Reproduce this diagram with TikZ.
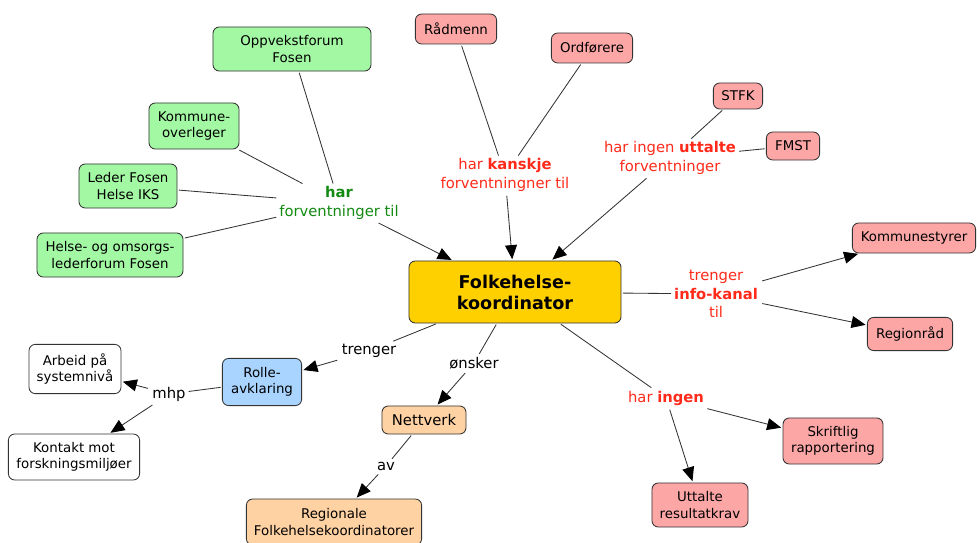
\documentclass[tikz,border=0pt]{standalone}
\usepackage{fontspec}
\setmainfont{DejaVu Sans}
\usetikzlibrary{arrows.meta}

\definecolor{boxgreen}{HTML}{A3F8A3}
\definecolor{boxred}{HTML}{FCA6A6}
\definecolor{boxgold}{HTML}{FFD000}
\definecolor{boxblue}{HTML}{A8D4FF}
\definecolor{boxpeach}{HTML}{FFD2A4}
\definecolor{txtgreen}{HTML}{128A12}
\definecolor{txtred}{HTML}{FF2A1A}

\begin{document}
\begin{tikzpicture}[x=0.025cm, y=-0.025cm,
  box/.style={draw=black!80, line width=0.6pt, rounded corners=4.5pt, align=center, inner sep=1pt, font=\fontsize{9.5}{11.5}\selectfont},
  lbl/.style={align=center, inner sep=2pt, font=\fontsize{10.5}{13}\selectfont},
  link/.style={draw=black!80, line width=0.6pt, shorten <=1pt},
  arr/.style={link, -{Triangle[length=10pt,width=8.5pt,color=black]}, shorten >=1pt}]

\useasboundingbox (0,0) rectangle (977,543);

\node[box, fill=boxgold, minimum width=5.3cm, minimum height=1.55cm, font=\fontsize{12.5}{15}\selectfont\bfseries] (koord) at (515,292) {Folkehelse-\\koordinator};

\node[box, fill=boxgreen, minimum width=3.95cm, minimum height=1.1cm] (oppv) at (292,49) {Oppvekstforum\\Fosen};
\node[box, fill=boxgreen, minimum width=2.25cm, minimum height=1.15cm] (overlege) at (194,126) {Kommune-\\overleger};
\node[box, fill=boxgreen, minimum width=2.45cm, minimum height=1.1cm] (leder) at (128,186) {Leder Fosen\\Helse IKS};
\node[box, fill=boxgreen, minimum width=3.65cm, minimum height=1.1cm] (helse) at (110,255) {Helse- og omsorgs-\\lederforum Fosen};

\node[box, fill=boxred, minimum width=2.03cm, minimum height=0.75cm] (radmenn) at (456,29) {Rådmenn};
\node[box, fill=boxred, minimum width=2.03cm, minimum height=0.75cm] (ordforer) at (592,48) {Ordførere};
\node[box, fill=boxred, minimum width=1.23cm, minimum height=0.65cm] (stfk) at (738,96) {STFK};
\node[box, fill=boxred, minimum width=1.33cm, minimum height=0.7cm] (fmst) at (793,146) {FMST};
\node[box, fill=boxred, minimum width=3.08cm, minimum height=0.75cm] (kstyre) at (914,238) {Kommunestyrer};
\node[box, fill=boxred, minimum width=2.13cm, minimum height=0.83cm] (regrad) at (910,334) {Regionråd};
\node[box, fill=boxred, minimum width=2.5cm, minimum height=1.15cm] (skriftlig) at (833,441) {Skriftlig\\rapportering};
\node[box, fill=boxred, minimum width=2.4cm, minimum height=1.1cm] (uttalte) at (700,505) {Uttalte\\resultatkrav};

\node[box, fill=boxblue, minimum width=1.98cm, minimum height=1.18cm] (rolle) at (262,382) {Rolle-\\avklaring};
\node[box, fill=white, minimum width=2.3cm, minimum height=1.23cm] (arbeid) at (75,369) {Arbeid på\\systemnivå};
\node[box, fill=white, minimum width=3.28cm, minimum height=1.15cm] (kontakt) at (74,457) {Kontakt mot\\forskningsmiljøer};
\node[box, fill=boxpeach, minimum width=2.1cm, minimum height=0.7cm, font=\fontsize{10.5}{13}\selectfont] (nettverk) at (424,420) {Nettverk};
\node[box, fill=boxpeach, minimum width=4.38cm, minimum height=1.15cm] (regionale) at (334,522) {Regionale\\Folkehelsekoordinatorer};

\node[lbl, text=txtgreen] (lblHar) at (339,203) {\textbf{har}\\forventninger til};
\node[lbl, text=txtred] (lblKanskje) at (505,175) {har \textbf{kanskje}\\forventningner til};
\node[lbl, text=txtred] (lblUttalte) at (670,158) {har ingen \textbf{uttalte}\\forventninger};
\node[lbl, text=txtred] (lblInfo) at (716,294) {trenger\\\textbf{info-kanal}\\til};
\node[lbl, text=txtred] (lblIngen) at (666,398) {har \textbf{ingen}};
\node[lbl] (lblTrenger) at (369,351) {trenger};
\node[lbl] (lblOnsker) at (474,363) {ønsker};
\node[lbl] (lblMhp) at (169,394) {mhp};
\node[lbl] (lblAv) at (386,466) {av};

\draw[link] (oppv) -- (lblHar);
\draw[link] (overlege) -- (lblHar);
\draw[link] (leder) -- (lblHar);
\draw[link] (helse) -- (lblHar);
\draw[arr] (lblHar) -- (koord);

\draw[link] (radmenn) -- (lblKanskje);
\draw[link] (ordforer) -- (lblKanskje);
\draw[arr] (lblKanskje) -- (koord);

\draw[link] (stfk) -- (lblUttalte);
\draw[link] (fmst) -- (lblUttalte);
\draw[arr] (lblUttalte) -- (koord);

\draw[link] (koord) -- (lblInfo);
\draw[arr] (lblInfo) -- (kstyre);
\draw[arr] (lblInfo) -- (regrad);

\draw[link] (koord) -- (lblIngen);
\draw[arr] (lblIngen) -- (skriftlig);
\draw[arr] (lblIngen) -- (uttalte);

\draw[link] (koord) -- (lblTrenger);
\draw[arr] (lblTrenger) -- (rolle);
\draw[link] (rolle) -- (lblMhp);
\draw[arr] (lblMhp) -- (arbeid);
\draw[arr] (lblMhp) -- (kontakt);

\draw[link] (koord) -- (lblOnsker);
\draw[arr] (lblOnsker) -- (nettverk);
\draw[link] (nettverk) -- (lblAv);
\draw[arr] (lblAv) -- (regionale);

\end{tikzpicture}
\end{document}
